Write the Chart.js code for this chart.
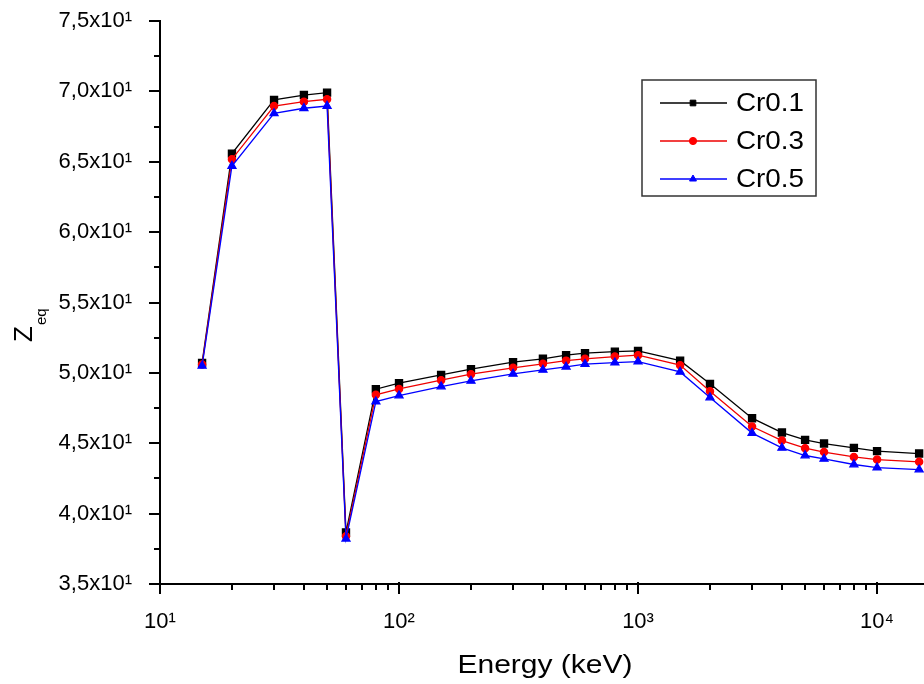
<!DOCTYPE html>
<html>
<head>
<meta charset="utf-8">
<title>Zeq vs Energy</title>
<script src="https://cdn.jsdelivr.net/npm/chart.js@4.4.1/dist/chart.umd.min.js"></script>
<style>
  html, body { margin: 0; padding: 0; background: #fff; overflow: hidden; }
  #wrap { width: 924px; height: 684px; overflow: hidden; position: relative; }
  #chart { display: block; }
</style>
</head>
<body>
<div id="wrap"><canvas id="chart" width="952" height="684"></canvas></div>
<script>
// energies in keV
const energy = [15, 20, 30, 40, 50, 60, 80, 100, 150, 200, 300, 400, 500, 600, 800, 1000, 1500, 2000, 3000, 4000, 5000, 6000, 8000, 10000, 15000];

const cr01 = [50.71, 65.58, 69.39, 69.74, 69.91, 38.66, 48.84, 49.27, 49.86, 50.26, 50.76, 51.00, 51.26, 51.40, 51.51, 51.56, 50.87, 49.22, 46.78, 45.76, 45.24, 44.98, 44.67, 44.44, 44.27];
const cr03 = [50.60, 65.18, 68.96, 69.27, 69.44, 38.40, 48.44, 48.86, 49.48, 49.91, 50.36, 50.64, 50.87, 51.00, 51.16, 51.26, 50.55, 48.70, 46.19, 45.19, 44.65, 44.37, 44.03, 43.84, 43.68];
const cr05 = [50.50, 64.70, 68.44, 68.80, 68.96, 38.21, 47.96, 48.39, 49.03, 49.43, 49.93, 50.21, 50.43, 50.62, 50.73, 50.80, 50.07, 48.25, 45.72, 44.67, 44.13, 43.89, 43.49, 43.27, 43.13];

const seriesLabels = ["Cr0.1", "Cr0.3", "Cr0.5"];
const xTickValues = [10, 100, 1000, 10000];
const supers = { 1: "\u00b9", 2: "\u00b2", 3: "\u00b3", 4: "\u2074" };

const FONT = "'Liberation Sans', Arial, sans-serif";

function toPoints(ys) {
    return energy.map((e, i) => ({ x: e, y: ys[i] }));
}

// tick marks drawn outward, major longer than minor
const tickMarks = {
    id: "tickMarks",
    afterDraw(chart) {
        const ctx = chart.ctx;
        const xs = chart.scales.x;
        const ys = chart.scales.y;
        const area = chart.chartArea;
        ctx.save();
        ctx.strokeStyle = "#000";
        ctx.lineWidth = 2;
        for (let v = ys.min; v <= ys.max + 0.01; v += 2.5) {
            const py = Math.round(ys.getPixelForValue(v));
            const len = (Math.round(v * 10) % 50 === 0) ? 11 : 6;
            ctx.beginPath();
            ctx.moveTo(area.left, py);
            ctx.lineTo(area.left - len, py);
            ctx.stroke();
        }
        for (let dec = 10; dec <= xs.max; dec *= 10) {
            for (let m = 1; m <= 9; m++) {
                const v = dec * m;
                if (v > xs.max) break;
                const px = Math.round(xs.getPixelForValue(v));
                const len = m === 1 ? 10 : 6;
                ctx.beginPath();
                ctx.moveTo(px, m === 1 ? area.bottom - 2 : area.bottom);
                ctx.lineTo(px, area.bottom + len);
                ctx.stroke();
            }
        }
        ctx.restore();
    }
};

// axis titles (y one has a subscript)
const axisTitles = {
    id: "axisTitles",
    afterDraw(chart) {
        const ctx = chart.ctx;
        const area = chart.chartArea;
        ctx.save();
        ctx.fillStyle = "#000";
        // x title, slightly wide like the original
        ctx.save();
        ctx.translate(area.left + 385, 673);
        ctx.scale(1.2, 1);
        ctx.font = "25px " + FONT;
        ctx.textAlign = "center";
        ctx.textBaseline = "alphabetic";
        ctx.fillText("Energy (keV)", 0, 0);
        ctx.restore();
        // y title
        ctx.translate(32, 342);
        ctx.rotate(-Math.PI / 2);
        ctx.textBaseline = "alphabetic";
        ctx.textAlign = "left";
        ctx.font = "26px " + FONT;
        ctx.fillText("Z", 0, 0);
        const w = ctx.measureText("Z").width;
        ctx.font = "15px " + FONT;
        ctx.fillText("eq", w + 1, 14);
        ctx.restore();
    }
};

// legend box inside the plot
const boxLegend = {
    id: "boxLegend",
    afterDraw(chart) {
        const ctx = chart.ctx;
        const bx = 642, by = 80, bw = 174, bh = 116;
        ctx.save();
        ctx.fillStyle = "#fff";
        ctx.fillRect(bx, by, bw, bh);
        ctx.strokeStyle = "#333";
        ctx.lineWidth = 1.5;
        ctx.strokeRect(bx, by, bw, bh);
        chart.data.datasets.forEach((ds, i) => {
            const y = 103 + i * 38;
            ctx.strokeStyle = ds.borderColor;
            ctx.lineWidth = ds.borderWidth;
            ctx.beginPath();
            ctx.moveTo(660, y);
            ctx.lineTo(727, y);
            ctx.stroke();
            ctx.fillStyle = ds.pointBackgroundColor;
            ctx.strokeStyle = ds.pointBorderColor;
            ctx.lineWidth = 1;
            Chart.helpers.drawPoint(ctx, {
                pointStyle: ds.pointStyle,
                radius: ds.legendRadius,
                rotation: 0,
                borderWidth: 1
            }, 693, y);
            ctx.save();
            ctx.translate(736, y + 1);
            ctx.scale(1.07, 1);
            ctx.fillStyle = "#000";
            ctx.font = "26px " + FONT;
            ctx.textBaseline = "middle";
            ctx.textAlign = "left";
            ctx.fillText(ds.label, 0, 0);
            ctx.restore();
        });
        ctx.restore();
    }
};

new Chart(document.getElementById("chart"), {
    type: "line",
    data: {
        datasets: [
            {
                label: seriesLabels[0],
                data: toPoints(cr01),
                borderColor: "#000000",
                backgroundColor: "#000000",
                pointBackgroundColor: "#000000",
                pointBorderColor: "#000000",
                pointStyle: "rect",
                pointRadius: 5,
                legendRadius: 4,
                borderWidth: 1.3,
                order: 3
            },
            {
                label: seriesLabels[1],
                data: toPoints(cr03),
                borderColor: "#ee0000",
                backgroundColor: "#ff0000",
                pointBackgroundColor: "#ff0000",
                pointBorderColor: "#ff0000",
                pointStyle: "circle",
                pointRadius: 3.6,
                legendRadius: 3.6,
                borderWidth: 1.3,
                order: 2
            },
            {
                label: seriesLabels[2],
                data: toPoints(cr05),
                borderColor: "#0000ff",
                backgroundColor: "#0000ff",
                pointBackgroundColor: "#0000ff",
                pointBorderColor: "#0000ff",
                pointStyle: "triangle",
                pointRadius: 4.6,
                legendRadius: 4,
                borderWidth: 1.3,
                order: 1
            }
        ]
    },
    options: {
        responsive: false,
        animation: false,
        devicePixelRatio: 1,
        layout: { autoPadding: false, padding: { left: 0, top: 21, right: 3, bottom: 0 } },
        plugins: {
            legend: { display: false },
            tooltip: { enabled: false }
        },
        elements: { line: { tension: 0 } },
        scales: {
            x: {
                type: "logarithmic",
                min: 10,
                max: 20000,
                afterBuildTicks(scale) {
                    scale.ticks = xTickValues.map(v => ({ value: v, major: true }));
                },
                afterFit(scale) {
                    scale.height = 100;
                    scale.paddingLeft = 0;
                    scale.paddingRight = 0;
                },
                grid: { display: false, drawTicks: false },
                border: { display: true, color: "#000", width: 2 },
                ticks: {
                    autoSkip: false,
                    maxRotation: 0,
                    padding: 25,
                    color: "#000",
                    font: { family: FONT, size: 22 },
                    callback: (v) => "10" + supers[Math.round(Math.log10(v))]
                },
                title: { display: false }
            },
            y: {
                min: 35,
                max: 75,
                afterFit(scale) {
                    scale.width = 160;
                    scale.paddingTop = 0;
                    scale.paddingBottom = 0;
                },
                grid: { display: false, drawTicks: false },
                border: { display: true, color: "#000", width: 2 },
                ticks: {
                    stepSize: 5,
                    padding: 28,
                    color: "#000",
                    font: { family: FONT, size: 22 },
                    callback: (v) => (v / 10).toFixed(1).replace(".", ",") + "x10\u00b9"
                }
            }
        }
    },
    plugins: [tickMarks, axisTitles, boxLegend]
});
</script>
</body>
</html>
